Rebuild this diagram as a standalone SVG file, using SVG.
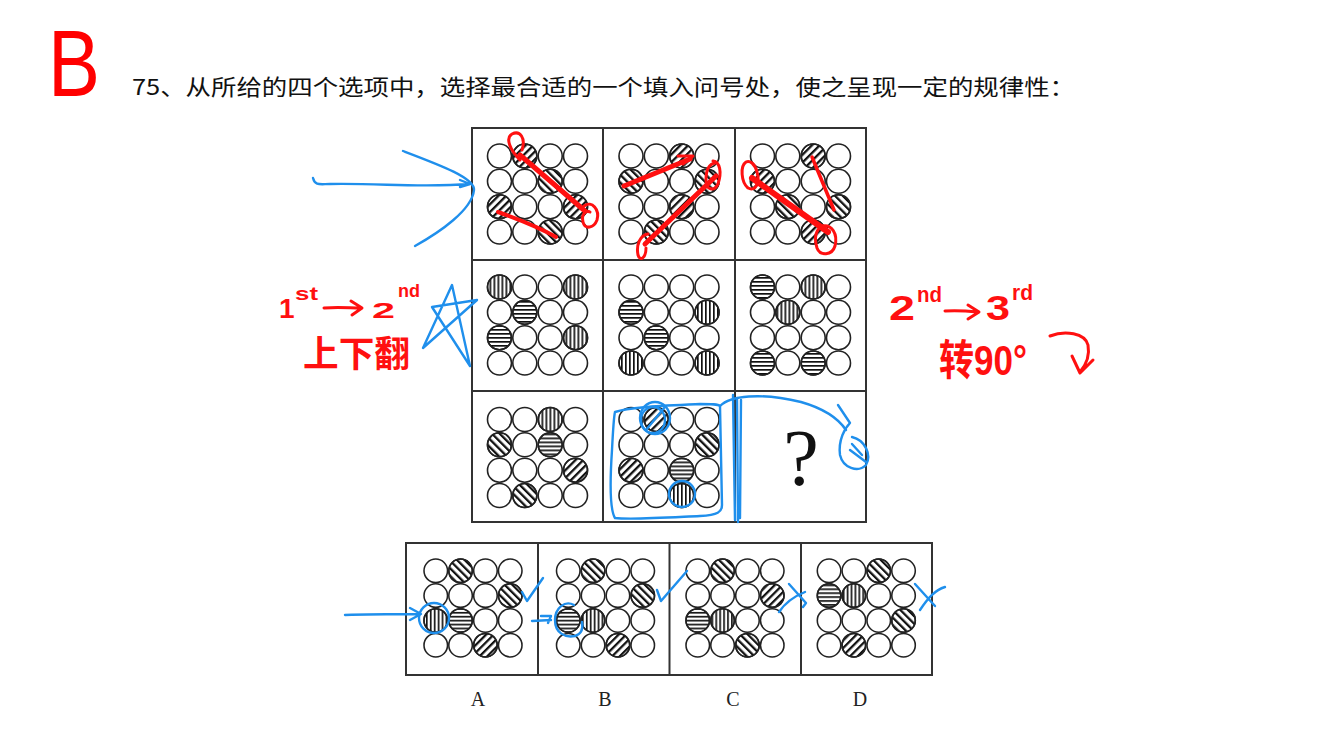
<svg xmlns="http://www.w3.org/2000/svg" xmlns:xlink="http://www.w3.org/1999/xlink" width="1341" height="754" viewBox="0 0 1341 754">
<style>
.c{stroke:#222;stroke-width:1.6}
.w{fill:#fff}
.h{fill:url(#ph)}
.v{fill:url(#pv)}
.f{fill:url(#pf)}
.b{fill:url(#pb)}
.frame{fill:none;stroke:#333;stroke-width:2}
.red{fill:none;stroke:#ff1010;stroke-linecap:round;stroke-linejoin:round}
.blue{fill:none;stroke:#1f8fec;stroke-width:2.4;stroke-linecap:round;stroke-linejoin:round}
.hw{fill:#ff1010;font-family:"Liberation Sans","Noto Sans CJK SC",sans-serif}
.lab{font-family:"Liberation Serif",serif;font-size:20px;fill:#222;text-anchor:middle}
</style>
<defs>
<pattern id="ph" patternUnits="userSpaceOnUse" width="8" height="4"><rect width="8" height="1.7" fill="#111"/></pattern>
<pattern id="pv" patternUnits="userSpaceOnUse" width="4" height="8"><rect width="1.7" height="8" fill="#111"/></pattern>
<pattern id="pf" patternUnits="userSpaceOnUse" width="5.5" height="10" patternTransform="rotate(45)"><rect width="2.3" height="10" fill="#111"/></pattern>
<pattern id="pb" patternUnits="userSpaceOnUse" width="5.5" height="10" patternTransform="rotate(-45)"><rect width="2.3" height="10" fill="#111"/></pattern>
<g id="g16" class="c w">
<circle cx="-38" cy="-38" r="12"/><circle cx="-12.7" cy="-38" r="12"/><circle cx="12.7" cy="-38" r="12"/><circle cx="38" cy="-38" r="12"/>
<circle cx="-38" cy="-12.7" r="12"/><circle cx="-12.7" cy="-12.7" r="12"/><circle cx="12.7" cy="-12.7" r="12"/><circle cx="38" cy="-12.7" r="12"/>
<circle cx="-38" cy="12.7" r="12"/><circle cx="-12.7" cy="12.7" r="12"/><circle cx="12.7" cy="12.7" r="12"/><circle cx="38" cy="12.7" r="12"/>
<circle cx="-38" cy="38" r="12"/><circle cx="-12.7" cy="38" r="12"/><circle cx="12.7" cy="38" r="12"/><circle cx="38" cy="38" r="12"/>
</g>
</defs>
<rect width="1341" height="754" fill="#fff"/>

<g id="title">
<text x="48" y="96" font-family="Liberation Sans,sans-serif" font-size="95" fill="#ff0000" textLength="52" lengthAdjust="spacingAndGlyphs">B</text>
<text x="132" y="95" font-family="'Noto Sans CJK SC',sans-serif" font-size="22" fill="#111" textLength="943" lengthAdjust="spacingAndGlyphs">75、从所给的四个选项中，选择最合适的一个填入问号处，使之呈现一定的规律性：</text>
</g>

<g id="grid-frame" class="frame">
<rect x="472" y="128" width="394" height="394"/>
<line x1="603" y1="128" x2="603" y2="522"/><line x1="735" y1="128" x2="735" y2="522"/>
<line x1="472" y1="260" x2="866" y2="260"/><line x1="472" y1="391" x2="866" y2="391"/>
</g>

<g id="cell-1-1" transform="translate(537.5,194)"><use xlink:href="#g16"/>
<g class="c"><circle class="f" cx="-12.7" cy="-38" r="12"/><circle class="b" cx="12.7" cy="-12.7" r="12"/><circle class="f" cx="-38" cy="12.7" r="12"/><circle class="f" cx="38" cy="12.7" r="12"/><circle class="b" cx="12.7" cy="38" r="12"/></g></g>
<g id="cell-1-2" transform="translate(669,194)"><use xlink:href="#g16"/>
<g class="c"><circle class="f" cx="12.7" cy="-38" r="12"/><circle class="b" cx="-38" cy="-12.7" r="12"/><circle class="b" cx="38" cy="-12.7" r="12"/><circle class="f" cx="12.7" cy="12.7" r="12"/><circle class="b" cx="-12.7" cy="38" r="12"/></g></g>
<g id="cell-1-3" transform="translate(800.5,194)"><use xlink:href="#g16"/>
<g class="c"><circle class="f" cx="12.7" cy="-38" r="12"/><circle class="f" cx="-38" cy="-12.7" r="12"/><circle class="b" cx="-12.7" cy="12.7" r="12"/><circle class="b" cx="38" cy="12.7" r="12"/><circle class="f" cx="12.7" cy="38" r="12"/></g></g>

<g id="cell-2-1" transform="translate(537.5,325)"><use xlink:href="#g16"/>
<g class="c"><circle class="v" cx="-38" cy="-38" r="12"/><circle class="v" cx="38" cy="-38" r="12"/><circle class="h" cx="-12.7" cy="-12.7" r="12"/><circle class="h" cx="-38" cy="12.7" r="12"/><circle class="v" cx="38" cy="12.7" r="12"/></g></g>
<g id="cell-2-2" transform="translate(669,325)"><use xlink:href="#g16"/>
<g class="c"><circle class="h" cx="-38" cy="-12.7" r="12"/><circle class="v" cx="38" cy="-12.7" r="12"/><circle class="h" cx="-12.7" cy="12.7" r="12"/><circle class="v" cx="-38" cy="38" r="12"/><circle class="v" cx="38" cy="38" r="12"/></g></g>
<g id="cell-2-3" transform="translate(800.5,325)"><use xlink:href="#g16"/>
<g class="c"><circle class="h" cx="-38" cy="-38" r="12"/><circle class="v" cx="12.7" cy="-38" r="12"/><circle class="v" cx="-12.7" cy="-12.7" r="12"/><circle class="h" cx="-38" cy="38" r="12"/><circle class="h" cx="12.7" cy="38" r="12"/></g></g>

<g id="cell-3-1" transform="translate(537.5,457.5)"><use xlink:href="#g16"/>
<g class="c"><circle class="v" cx="12.7" cy="-38" r="12"/><circle class="b" cx="-38" cy="-12.7" r="12"/><circle class="h" cx="12.7" cy="-12.7" r="12"/><circle class="f" cx="38" cy="12.7" r="12"/><circle class="b" cx="-12.7" cy="38" r="12"/></g></g>
<g id="cell-3-2" transform="translate(669,457.5)"><use xlink:href="#g16"/>
<g class="c"><circle class="f" cx="-12.7" cy="-38" r="12"/><circle class="b" cx="38" cy="-12.7" r="12"/><circle class="f" cx="-38" cy="12.7" r="12"/><circle class="h" cx="12.7" cy="12.7" r="12"/><circle class="v" cx="12.7" cy="38" r="12"/></g></g>
<g id="cell-3-3"><text x="801" y="485" font-family="'Liberation Serif',serif" font-size="80" fill="#111" text-anchor="middle">?</text></g>

<g id="options-frame" class="frame">
<rect x="406" y="543" width="526" height="132"/>
<line x1="538" y1="543" x2="538" y2="675"/><line x1="669.5" y1="543" x2="669.5" y2="675"/><line x1="801" y1="543" x2="801" y2="675"/>
</g>
<g id="option-A" transform="translate(473,608) scale(0.98)"><use xlink:href="#g16"/>
<g class="c"><circle class="b" cx="-12.7" cy="-38" r="12"/><circle class="b" cx="38" cy="-12.7" r="12"/><circle class="v" cx="-38" cy="12.7" r="12"/><circle class="h" cx="-12.7" cy="12.7" r="12"/><circle class="f" cx="12.7" cy="38" r="12"/></g></g>
<g id="option-B" transform="translate(605.5,608) scale(0.98)"><use xlink:href="#g16"/>
<g class="c"><circle class="b" cx="-12.7" cy="-38" r="12"/><circle class="b" cx="38" cy="-12.7" r="12"/><circle class="h" cx="-38" cy="12.7" r="12"/><circle class="v" cx="-12.7" cy="12.7" r="12"/><circle class="f" cx="12.7" cy="38" r="12"/></g></g>
<g id="option-C" transform="translate(735,608) scale(0.98)"><use xlink:href="#g16"/>
<g class="c"><circle class="b" cx="-12.7" cy="-38" r="12"/><circle class="f" cx="38" cy="-12.7" r="12"/><circle class="h" cx="-38" cy="12.7" r="12"/><circle class="v" cx="-12.7" cy="12.7" r="12"/><circle class="b" cx="12.7" cy="38" r="12"/></g></g>
<g id="option-D" transform="translate(866.3,608) scale(0.98)"><use xlink:href="#g16"/>
<g class="c"><circle class="b" cx="12.7" cy="-38" r="12"/><circle class="h" cx="-38" cy="-12.7" r="12"/><circle class="v" cx="-12.7" cy="-12.7" r="12"/><circle class="b" cx="38" cy="12.7" r="12"/><circle class="f" cx="-12.7" cy="38" r="12"/></g></g>
<g id="option-labels">
<text class="lab" x="478" y="706">A</text><text class="lab" x="605" y="706">B</text><text class="lab" x="733" y="706">C</text><text class="lab" x="860" y="706">D</text>
</g>

<g id="red-annotations">
<g class="red" stroke-width="3">
<path d="M520,160 C510,150 505,138 512,134 C520,130 526,138 522,150"/>
<path d="M584,206 C592,200 600,210 597,220 C594,228 585,230 583,222 C581,214 586,210 590,212"/>
<path d="M713,161 C720,162 722,172 718,184 C714,192 706,190 706,180 C706,170 709,164 715,163"/>
<path d="M648,234 C640,235 636,245 638,255 C640,262 646,258 646,248"/>
<path d="M746,162 C740,166 741,182 748,188 C756,192 760,182 757,172 C755,164 750,160 746,162"/>
<path d="M822,226 C832,224 838,234 835,246 C832,256 820,256 817,248 C814,238 816,230 822,226"/>
<path d="M812,157 L834,210" stroke-width="3.5"/>
</g>
<g class="red" stroke-width="5">
<path d="M520,155 L585,211"/>
<path d="M498,212 C515,218 540,228 556,237" stroke-width="4"/>
<path d="M624,186 L690,159"/>
<path d="M678,156 L693,156 L683,164" stroke-width="3"/>
<path d="M645,244 L716,176"/>
<path d="M752,178 L828,232" stroke-width="6"/>
</g>
<g class="red" stroke-width="3">
<path d="M324,308 C338,307 350,308 361,308 M351,301 L362,308 L352,315"/>
<path d="M945,311 C958,310 968,311 978,312 M968,305 L979,312 L968,319"/>
</g>
<text class="hw" x="279" y="318" font-size="28" font-weight="bold">1</text>
<text class="hw" x="295" y="300" font-size="19" font-weight="bold" textLength="23" lengthAdjust="spacingAndGlyphs">st</text>
<text class="hw" x="372" y="318" font-size="22" font-weight="bold" textLength="23" lengthAdjust="spacingAndGlyphs">2</text>
<text class="hw" x="398" y="297" font-size="19" font-weight="bold" textLength="22" lengthAdjust="spacingAndGlyphs">nd</text>
<text class="hw" x="303" y="367" font-size="36" font-weight="bold" textLength="107" lengthAdjust="spacingAndGlyphs">上下翻</text>
<text class="hw" x="889" y="320" font-size="35" font-weight="bold" textLength="26" lengthAdjust="spacingAndGlyphs">2</text>
<text class="hw" x="917" y="302" font-size="22" font-weight="bold" textLength="25" lengthAdjust="spacingAndGlyphs">nd</text>
<text class="hw" x="986" y="320" font-size="35" font-weight="bold" textLength="24" lengthAdjust="spacingAndGlyphs">3</text>
<text class="hw" x="1012" y="300" font-size="22" font-weight="bold" textLength="21" lengthAdjust="spacingAndGlyphs">rd</text>
<text class="hw" x="939" y="375" font-size="42" font-weight="bold" textLength="88" lengthAdjust="spacingAndGlyphs">转90°</text>
<path class="red" stroke-width="3" d="M1050,336 C1065,330 1085,333 1088,345 C1090,356 1086,365 1080,372 M1072,356 L1080,373 L1093,360"/>
</g>

<g id="blue-annotations" class="blue">
<path d="M313,178 C315,186 320,184 330,184 C380,183 420,188 470,184 M460,180 L470,184 L460,187"/>
<path d="M403,151 C440,165 475,178 474,190 C472,210 440,232 415,246"/>
<path d="M423,348 L452,285 L470,366 L432,307 L477,300 Z"/>
<path d="M615,412 C630,407 660,406 700,404 C712,404 718,404 720,406 L722,505 C722,512 718,515 700,516 C660,518 630,520 615,518 C610,510 610,480 612,450 C613,430 614,416 615,412"/>
<path d="M720,406 C730,396 760,392 801,402 C822,408 838,418 846,430"/>
<ellipse cx="655" cy="418" rx="15" ry="16"/>
<ellipse cx="653" cy="420" rx="12" ry="13"/>
<path d="M646,430 L664,408"/>
<circle cx="682" cy="494" r="13"/>
<path d="M733,395 L735,520 M737,398 L738,522 M741,400 L740,518"/>
<path d="M838,405 L850,423 C845,428 838,440 840,455 C843,468 858,473 866,465 C872,455 865,440 852,437 M850,450 L866,462 M852,444 L862,455"/>
<path d="M345,615 C370,614 395,614 420,614 M410,608 L421,614 L410,620"/>
<circle cx="434" cy="618" r="15"/>
<path d="M522,592 L527,601 L543,578"/>
<path d="M532,621 L551,620 M541,616 L551,616 L548,623"/>
<path d="M574,605 C565,600 555,608 555,620 C555,633 565,638 575,636 C582,634 583,628 582,622"/>
<path d="M657,590 L661,601 L687,571"/>
<path d="M789,584 L806,603 L803,607 M779,612 C785,603 795,596 805,592"/>
<path d="M915,584 L935,606 M920,610 C928,598 935,590 945,587"/>
</g>
</svg>
